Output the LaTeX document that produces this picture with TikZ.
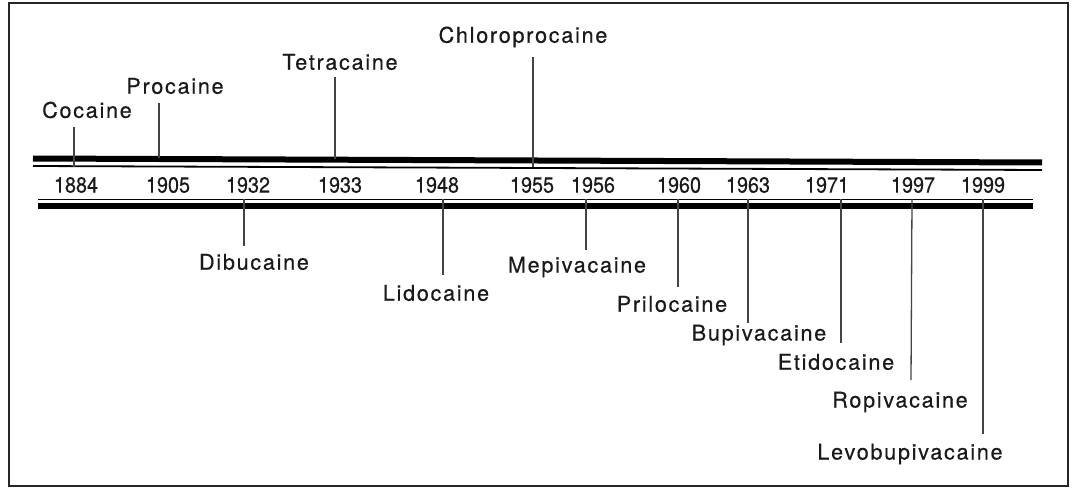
\documentclass[tikz,border=0pt]{standalone}
\usepackage{fontspec}
\setmainfont{TeX Gyre Heros}[LetterSpace=8,FakeBold=0.4]
\newfontfamily\yearfont{TeX Gyre Heros}[FakeStretch=0.9,FakeBold=0.3]
\definecolor{ink}{HTML}{1A1A1A}
\definecolor{tickc}{HTML}{444444}
\begin{document}
\begin{tikzpicture}[x=1pt,y=-1pt,
  lbl/.style={inner sep=0pt,anchor=center,text=ink,font=\fontsize{21.6}{26}\selectfont},
  yr/.style={inner sep=0pt,anchor=center,text=ink,font=\yearfont\fontsize{22}{26}\selectfont},
  tickline/.style={draw=tickc,line width=1.3pt},
  thickbar/.style={draw=black,line width=6pt},
  thinbar/.style={draw=black,line width=1.8pt},
  frame/.style={draw=black!85,line width=2.4pt}]
\useasboundingbox (0,0) rectangle (1078,489);
\fill[white] (0,0) rectangle (1078,489);
\draw[frame] (9,3) rectangle (1068,486);
% upper bar
\coordinate (ubL) at (33,158.5);
\coordinate (ubR) at (1042,162.5);
\coordinate (utL) at (33,166);
\coordinate (utR) at (1042,170);
\draw[thickbar] (ubL) -- (ubR);
\draw[thinbar] (utL) -- (utR);
% lower bar
\coordinate (lbL) at (38,205.5);
\coordinate (lbR) at (1033,205.5);
\coordinate (ltL) at (38,199.5);
\coordinate (ltR) at (1033,199.5);
\draw[thickbar] (lbL) -- (lbR);
\draw[thinbar] (ltL) -- (ltR);
% years
\node[yr] (y1884) at (76,185) {1884};
\node[yr] (y1905) at (168,185) {1905};
\node[yr] (y1932) at (248,185) {1932};
\node[yr] (y1933) at (340,185) {1933};
\node[yr] (y1948) at (437,185) {1948};
\node[yr] (y1955) at (532,185) {1955};
\node[yr] (y1956) at (593,185) {1956};
\node[yr] (y1960) at (679,185) {1960};
\node[yr] (y1963) at (748,185) {1963};
\node[yr] (y1971) at (827,185) {1971};
\node[yr] (y1997) at (913,185) {1997};
\node[yr] (y1999) at (983,185) {1999};
% upper labels
\node[lbl] (coc) at (87,110) {Cocaine};
\node[lbl] (pro) at (175,86) {Procaine};
\node[lbl] (tet) at (340,62) {Tetracaine};
\node[lbl] (chl) at (523,37) {Chloroprocaine};
\coordinate (cocT) at (74,127);  \coordinate (cocB) at (74,167);
\coordinate (proT) at (159,103); \coordinate (proB) at (159,158);
\coordinate (tetT) at (335,77);  \coordinate (tetB) at (335,159);
\coordinate (chlT) at (533,57);  \coordinate (chlB) at (533,167);
\draw[tickline] (cocT) -- (cocB);
\draw[tickline] (proT) -- (proB);
\draw[tickline] (tetT) -- (tetB);
\draw[tickline] (chlT) -- (chlB);
% lower labels
\node[lbl] (dib) at (254,262) {Dibucaine};
\node[lbl] (lid) at (436,293) {Lidocaine};
\node[lbl] (mep) at (577,267) {Mepivacaine};
\node[lbl] (pri) at (672,304) {Prilocaine};
\node[lbl] (bup) at (759,335) {Bupivacaine};
\node[lbl] (eti) at (836,362) {Etidocaine};
\node[lbl] (rop) at (900,402) {Ropivacaine};
\node[lbl] (lev) at (910,454) {Levobupivacaine};
\coordinate (dibT) at (244,199); \coordinate (dibB) at (244,246);
\coordinate (lidT) at (443,199); \coordinate (lidB) at (443,275);
\coordinate (mepT) at (586,199); \coordinate (mepB) at (586,250);
\coordinate (priT) at (678,199); \coordinate (priB) at (678,287);
\coordinate (bupT) at (748,199); \coordinate (bupB) at (748,323);
\coordinate (etiT) at (841,199); \coordinate (etiB) at (841,343);
\coordinate (ropT) at (912,199); \coordinate (ropB) at (911,380);
\coordinate (levT) at (983,199); \coordinate (levB) at (983,434);
\draw[tickline] (dibT) -- (dibB);
\draw[tickline] (lidT) -- (lidB);
\draw[tickline] (mepT) -- (mepB);
\draw[tickline] (priT) -- (priB);
\draw[tickline] (bupT) -- (bupB);
\draw[tickline] (etiT) -- (etiB);
\draw[tickline] (ropT) -- (ropB);
\draw[tickline] (levT) -- (levB);
\end{tikzpicture}
\end{document}
